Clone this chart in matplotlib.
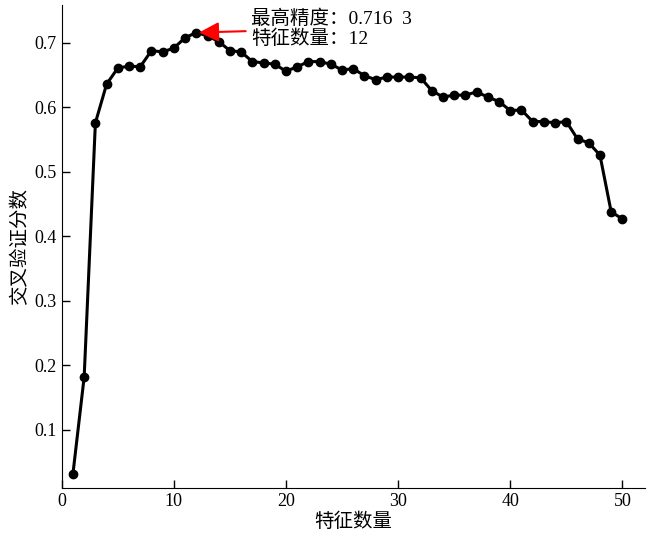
import matplotlib
matplotlib.use('agg')
import matplotlib.pyplot as plt
import numpy as np

plt.rcParams['font.family'] = ['Liberation Serif', 'Noto Sans CJK SC']
plt.rcParams['mathtext.fontset'] = 'stix'

# number of features and cross-validation scores
n_features = np.arange(1, 51)
cv_scores = [0.032, 0.182, 0.576, 0.636, 0.661, 0.664, 0.663, 0.688, 0.686, 0.692,
             0.708, 0.716, 0.711, 0.702, 0.688, 0.686, 0.671, 0.669, 0.667, 0.656,
             0.663, 0.671, 0.671, 0.667, 0.658, 0.660, 0.649, 0.643, 0.647, 0.647,
             0.647, 0.646, 0.626, 0.616, 0.619, 0.619, 0.624, 0.616, 0.609, 0.595,
             0.596, 0.578, 0.578, 0.576, 0.578, 0.551, 0.545, 0.526, 0.438, 0.427]
best_n = 12
best_score = 0.716

fig = plt.figure(figsize=(6.5, 5.39), dpi=100)
ax = fig.add_axes([0.095, 0.095, 0.897, 0.896])

ax.plot(n_features, cv_scores, color='black', linewidth=2.2, marker='o', markersize=6)

ax.annotate('最高精度：0.716  3\n特征数量：12', xy=(best_n, best_score), xytext=(16.9, 0.722),
            fontsize=14, ha='left', va='center', linespacing=1.15,
            arrowprops=dict(arrowstyle='-|>', color='red', lw=1.5, mutation_scale=30,
                            shrinkA=2, shrinkB=2))

ax.set_xlim(0, 52)
ax.set_ylim(0.01, 0.759)
ax.set_xticks([0, 10, 20, 30, 40, 50])
ax.set_yticks([0.1, 0.2, 0.3, 0.4, 0.5, 0.6, 0.7])
ax.tick_params(direction='in', length=6, labelsize=13, width=1)
ax.spines['top'].set_visible(False)
ax.spines['right'].set_visible(False)
ax.set_xlabel('特征数量', fontsize=14, labelpad=2)
ax.set_ylabel('交叉验证分数', fontsize=14, labelpad=4)

fig.savefig('out.png', dpi=100)
